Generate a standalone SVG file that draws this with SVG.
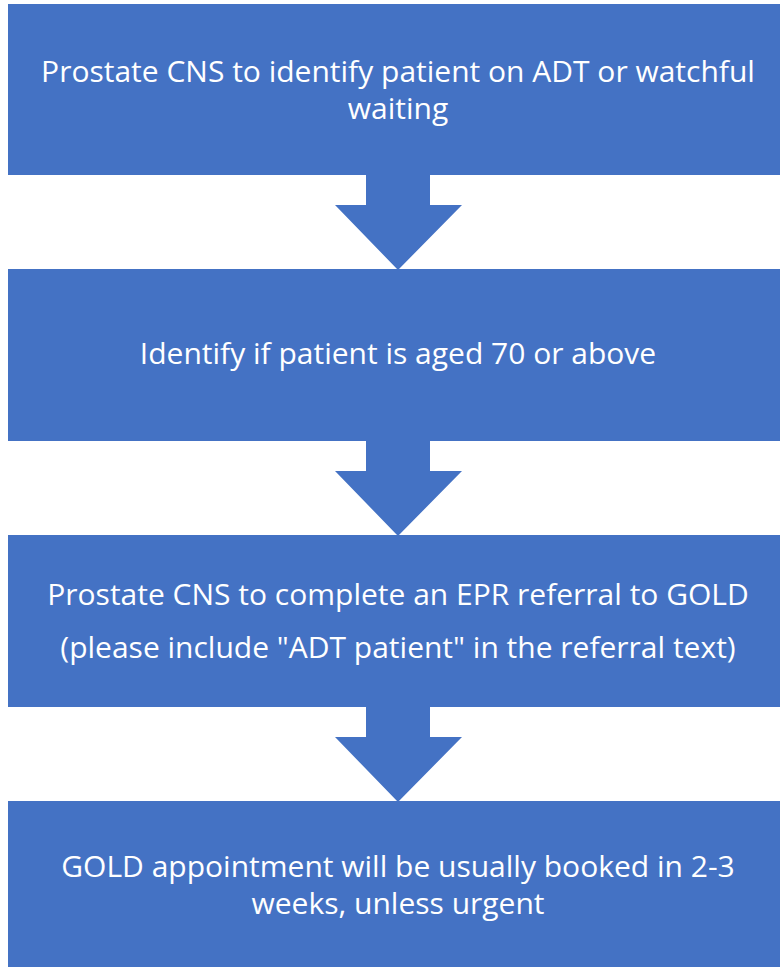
<svg xmlns="http://www.w3.org/2000/svg" width="780" height="967" viewBox="0 0 780 967">
<style>
.box{fill:#4472C4}
.arr{fill:#4472C4}
text{font-family:"Open Sans","Noto Sans",sans-serif;font-size:30px;fill:#ffffff;text-anchor:middle}
</style>
<rect width="780" height="967" fill="#ffffff"/>
<g id="connectors">
<polygon class="arr" points="366,175 430,175 430,205 462,205 398,270 335,205 366,205"/>
<polygon class="arr" points="366,441 430,441 430,471 462,471 398,536 335,471 366,471"/>
<polygon class="arr" points="366,707 430,707 430,737 462,737 398,802 335,737 366,737"/>
</g>
<g id="node1">
<rect class="box" x="8" y="4" width="772" height="171"/>
<text x="398" y="82">Prostate CNS to identify patient on ADT or watchful</text>
<text x="398" y="119">waiting</text>
</g>
<g id="node2">
<rect class="box" x="8" y="269" width="772" height="172"/>
<text x="398" y="364">Identify if patient is aged 70 or above</text>
</g>
<g id="node3">
<rect class="box" x="8" y="535" width="772" height="172"/>
<text x="398" y="605">Prostate CNS to complete an EPR referral to GOLD</text>
<text x="398" y="658">(please include "ADT patient" in the referral text)</text>
</g>
<g id="node4">
<rect class="box" x="8" y="801" width="772" height="166"/>
<text x="398" y="877">GOLD appointment will be usually booked in 2-3</text>
<text x="398" y="914">weeks, unless urgent</text>
</g>
</svg>
